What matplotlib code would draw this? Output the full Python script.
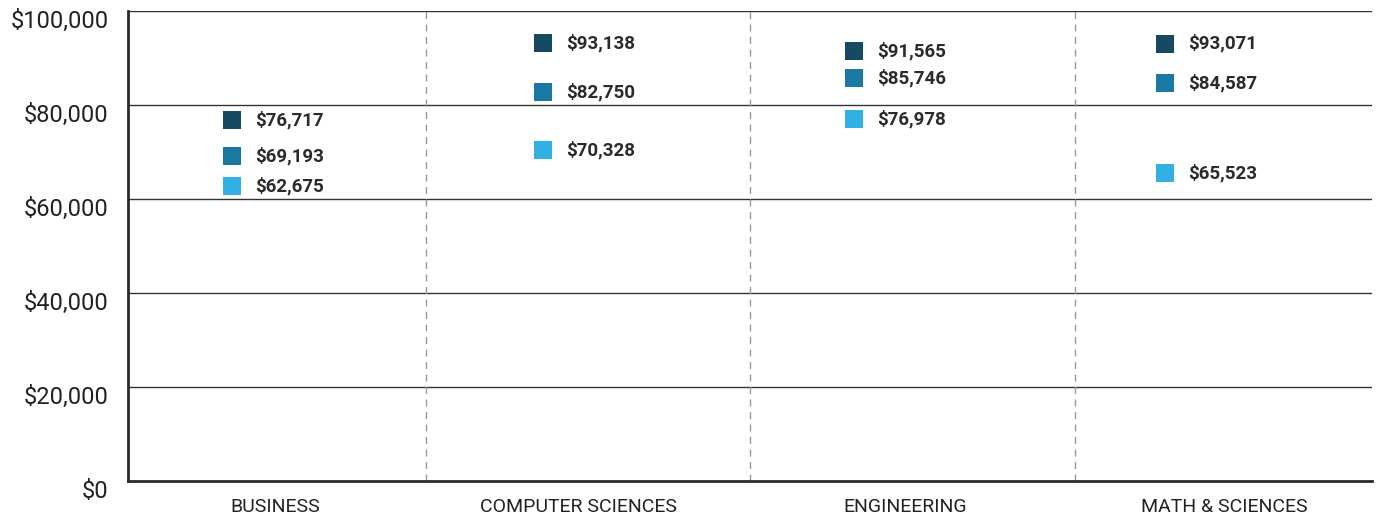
import matplotlib
matplotlib.use("Agg")
import matplotlib.pyplot as plt
import matplotlib.transforms as mtransforms
from matplotlib.ticker import FuncFormatter

categories = ["BUSINESS", "COMPUTER SCIENCES", "ENGINEERING", "MATH & SCIENCES"]
series_top = [76717, 93138, 91565, 93071]
series_mid = [69193, 82750, 85746, 84587]
series_low = [62675, 70328, 76978, 65523]
colors = ["#164a63", "#1b7aa3", "#33b0e3"]

# layout (not data): label positions and divider positions in category units
label_pos = [-0.027, 0.95, 2.0, 3.024]
divider_pos = [0.458, 1.5, 2.545]
marker_offset = -0.165
text_offset = 0.075

plt.rcParams['font.family'] = ['Roboto', 'DejaVu Sans']

fig = plt.figure(figsize=(13.76, 5.17), dpi=100)
ax = fig.add_axes([0.093, 0.0696, 0.904, 0.9091])

for vals, c in zip([series_top, series_mid, series_low], colors):
    xs = [i + marker_offset for i in range(len(categories))]
    ax.scatter(xs, vals, marker='s', s=150, color=c, zorder=3, linewidths=0)
    for x, v in zip(xs, vals):
        ax.text(x + text_offset, v, f"${v:,}", fontsize=13.5, fontweight='bold',
                color='#2b2b2b', va='center', ha='left', zorder=4)

ax.set_xlim(-0.5, len(categories) - 0.5)
ax.set_ylim(0, 100000)
ax.set_yticks(range(0, 100001, 20000))
ax.yaxis.set_major_formatter(FuncFormatter(lambda v, p: f"${int(v):,}"))
ax.set_xticks(label_pos)
ax.set_xticklabels(categories, fontsize=14, color='#222222')
ax.tick_params(axis='y', labelsize=17, length=0, pad=14, labelcolor='#222222')
ax.tick_params(axis='x', length=0, pad=12)

offset = mtransforms.ScaledTranslation(0, -6 / 72, fig.dpi_scale_trans)
for lab in ax.get_yticklabels():
    lab.set_transform(lab.get_transform() + offset)

for y in range(20000, 100001, 20000):
    ax.axhline(y, color='#333333', lw=1.0, zorder=1)
for b in divider_pos:
    ax.axvline(b, color='#999999', lw=1.0, ls=(0, (5, 4)), zorder=1)

for s in ['top', 'right']:
    ax.spines[s].set_visible(False)
ax.spines['left'].set_linewidth(2)
ax.spines['bottom'].set_linewidth(2)
ax.spines['left'].set_color('#2b2b2b')
ax.spines['bottom'].set_color('#2b2b2b')

fig.savefig("out.png", dpi=100)
